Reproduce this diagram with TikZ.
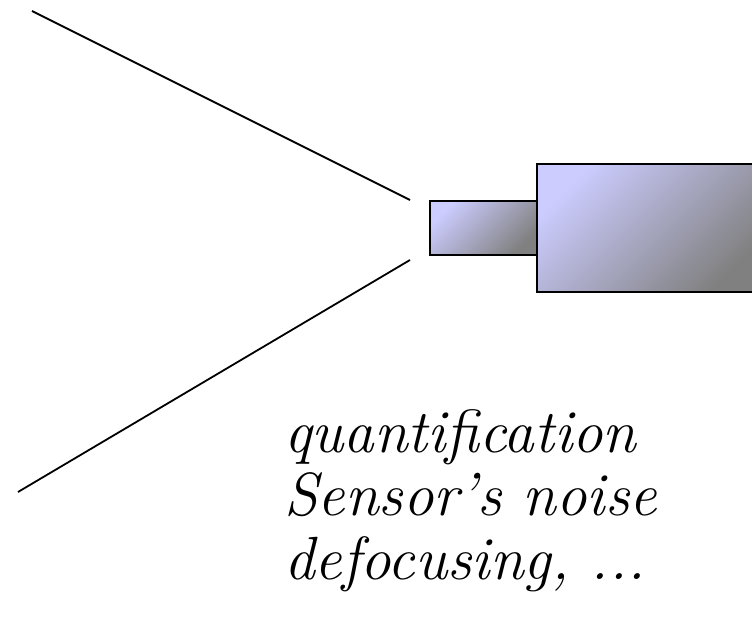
\documentclass[tikz,border=0pt]{standalone}
\usepackage{fontspec}
\definecolor{lav}{HTML}{CCCCFF}
\definecolor{gry}{HTML}{808080}
\tikzset{
  body/.style={draw=black, line width=1.7pt, inner sep=0pt, outer sep=0pt,
    top color=lav, bottom color=gry, shading angle=45},
  ray/.style={draw=black, line width=1.8pt},
  caption/.style={align=left, anchor=north west, inner sep=0pt,
    font=\fontsize{61}{63.5}\selectfont\itshape}
}
\begin{document}
\begin{tikzpicture}[x=1pt,y=-1pt]
\useasboundingbox (0,0) rectangle (752,623);
\clip (0,0) rectangle (752,623);
\coordinate (r1a) at (32,11);
\coordinate (r1b) at (410,200);
\coordinate (r2a) at (18,492);
\coordinate (r2b) at (410,260);
\draw[ray] (r1a) -- (r1b);
\draw[ray] (r2a) -- (r2b);
\node[body, minimum width=107pt, minimum height=54pt] (lens) at (483.5,228) {};
\node[body, minimum width=225pt, minimum height=128pt] (cam) at (649.5,228) {};
\node[caption] (txt) at (284,409) {quantification\\Sensor’s noise\\defocusing, ...};
\end{tikzpicture}
\end{document}
